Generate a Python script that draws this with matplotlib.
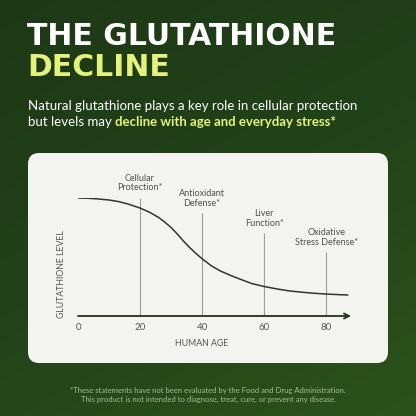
import numpy as np
import matplotlib
matplotlib.use("Agg")
import matplotlib.pyplot as plt
from matplotlib.patches import FancyBboxPatch
from matplotlib.colors import LinearSegmentedColormap

# data
ages = [0, 3, 6, 10, 13, 16, 20, 23, 26, 28, 30, 32, 34, 36, 38, 40, 43, 46, 50,
        53, 56, 60, 64, 68, 72, 76, 80, 84, 87]
levels = [100, 99.8, 99.3, 98.3, 97, 95, 91.5, 88, 83.5, 79.5, 75, 69.5, 63.5, 58, 53, 48.5,
          42.5, 38, 33.5, 30.5, 27.5, 25, 23, 21.3, 20.2, 19.3, 18.6, 18.1, 17.8]
marker_ages = [20, 40, 60, 80]
marker_tops = [100, 87, 70, 54]
marker_labels = ["Cellular\nProtection*", "Antioxidant\nDefense*", "Liver\nFunction*", "Oxidative\nStress Defense*"]
tick_ages = [0, 20, 40, 60, 80]

fig = plt.figure(figsize=(4.16, 4.16), dpi=100)

# background, pixel coords from top-left
bg = fig.add_axes([0, 0, 1, 1])
bg.set_xlim(0, 416)
bg.set_ylim(416, 0)
bg.axis("off")
gx, gy = np.meshgrid(np.linspace(0, 1, 200), np.linspace(0, 1, 200))
grad = 0.35 * gx + 0.65 * gy
cmap = LinearSegmentedColormap.from_list("g", ["#1d3815", "#22431a", "#2b521a"])
bg.imshow(grad, extent=(0, 416, 416, 0), cmap=cmap, aspect="auto", zorder=0)

# white card
card = FancyBboxPatch((28, 153), 360, 210, boxstyle="round,pad=0,rounding_size=11",
                      fc="#f3f4f0", ec="none", zorder=1)
bg.add_patch(card)

# title and subtitle
bg.text(27, 45, "THE GLUTATHIONE", color="white", fontsize=21.5, fontweight="bold",
        family="DejaVu Sans", va="baseline", zorder=2)
bg.text(27, 76, "DECLINE", color="#e3f27d", fontsize=21.5, fontweight="bold",
        family="DejaVu Sans", va="baseline", zorder=2)
bg.text(28, 110, "Natural glutathione plays a key role in cellular protection",
        color="white", fontsize=9.5, family="Lato", va="baseline", zorder=2)
t1 = bg.text(28, 126, "but levels may ", color="white", fontsize=9.5, family="Lato",
             va="baseline", zorder=2)
bg.annotate("decline with age and everyday stress*", xy=(1, 0), xycoords=t1,
            va="bottom", ha="left", color="#e3f27d", fontsize=9.5, fontweight="bold",
            family="Lato", zorder=2)

# footer
bg.text(208, 390, "*These statements have not been evaluated by the Food and Drug Administration.",
        color="#a7bb97", fontsize=5.5, family="Lato", ha="center", va="center", zorder=2)
bg.text(208, 399, "This product is not intended to diagnose, treat, cure, or prevent any disease.",
        color="#a7bb97", fontsize=5.5, family="Lato", ha="center", va="center", zorder=2)

# chart axis
ax = fig.add_axes([78 / 416, 100 / 416, 273 / 416, 118 / 416])
ax.set_xlim(0, 88)
ax.set_ylim(0, 100)
ax.patch.set_alpha(0)
for s in ax.spines.values():
    s.set_visible(False)

axis_col = "#1e3418"
ax.annotate("", xy=(88, 0), xytext=(0, 0),
            arrowprops=dict(arrowstyle="->", color=axis_col, lw=1.3, mutation_scale=9,
                            shrinkA=0, shrinkB=0))
ax.annotate("", xy=(0, 101), xytext=(0, 0),
            arrowprops=dict(arrowstyle="->", color=axis_col, lw=1.3, mutation_scale=9,
                            shrinkA=0, shrinkB=0))

ax.vlines(marker_ages, 0, marker_tops, color="#9c9c9c", lw=0.8)
for a, top, lab in zip(marker_ages, marker_tops, marker_labels):
    ax.annotate(lab, xy=(a, top), xytext=(0, 4), textcoords="offset points",
                ha="center", va="bottom", fontsize=6.5, color="#505050", family="Lato",
                linespacing=1.1, annotation_clip=False)

ax.plot(ages, levels, color="#333333", lw=1.1, solid_capstyle="round", solid_joinstyle="round")

ax.set_xticks(tick_ages)
ax.set_xticklabels([str(a) for a in tick_ages], fontsize=7, color="#555555", family="Lato")
ax.tick_params(axis="x", length=0, pad=5)
ax.set_yticks([])

fig.text(62 / 416, 1 - 274 / 416, "GLUTATHIONE LEVEL", rotation=90, ha="center", va="center",
         fontsize=6.3, color="#555555", family="Lato")
fig.text(202 / 416, 1 - 344 / 416, "HUMAN AGE", ha="center", va="center",
         fontsize=6.3, color="#555555", family="Lato")

fig.savefig("out.png", dpi=100)
